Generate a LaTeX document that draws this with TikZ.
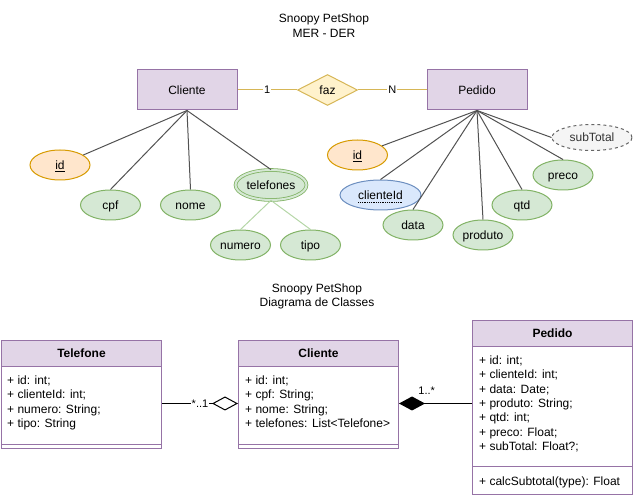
\documentclass[tikz,border=0pt]{standalone}
\usepackage{fontspec}
\setmainfont{Liberation Sans}
\usetikzlibrary{shapes.geometric,arrows.meta}
\definecolor{purF}{HTML}{E1D5E7}
\definecolor{purS}{HTML}{9673A6}
\definecolor{yelF}{HTML}{FFF2CC}
\definecolor{yelS}{HTML}{D6B656}
\definecolor{oraF}{HTML}{FFE6CC}
\definecolor{oraS}{HTML}{D79B00}
\definecolor{greF}{HTML}{D5E8D4}
\definecolor{greS}{HTML}{82B366}
\definecolor{greL}{HTML}{B5D6A7}
\definecolor{bluF}{HTML}{DAE8FC}
\definecolor{bluS}{HTML}{6C8EBF}
\definecolor{gryF}{HTML}{F5F5F5}
\definecolor{gryS}{HTML}{666666}
\definecolor{gryT}{HTML}{333333}
\begin{document}
\begin{tikzpicture}[x=1pt,y=-1pt,
  font=\fontsize{12pt}{14.4pt}\selectfont,
  txt/.style={text height=8.6pt, text depth=0pt},
  entity/.style={rectangle, draw=purS, fill=purF, line width=1pt, minimum width=100pt, minimum height=40pt, inner sep=0pt, txt},
  attr/.style={ellipse, draw=greS, fill=greF, line width=1pt, minimum width=60pt, minimum height=30pt, inner sep=0pt, txt},
  keyattr/.style={attr, draw=oraS, fill=oraF},
  fkattr/.style={attr, draw=bluS, fill=bluF, minimum width=81pt},
  derattr/.style={attr, draw=gryS, fill=gryF, dashed, minimum width=80pt, minimum height=26pt, text=gryT},
  multattr/.style={attr, line width=0.8pt, double=greF, double distance=2pt, minimum width=71pt},
  rel/.style={diamond, draw=yelS, fill=yelF, line width=1pt, minimum width=60pt, minimum height=31pt, inner sep=0pt, txt},
  erline/.style={draw=black!68, line width=1pt},
  subline/.style={draw=greL, line width=1pt},
  relline/.style={draw=yelS, line width=1pt},
  card/.style={fill=white, inner sep=1pt, font=\fontsize{11pt}{13pt}\selectfont, text height=8pt, text depth=0pt},
  classbox/.style={rectangle, draw=purS, fill=white, line width=1pt, minimum width=160pt, inner sep=0pt, anchor=north west},
  classhead/.style={rectangle, draw=purS, fill=purF, line width=1pt, minimum width=160pt, minimum height=26pt, inner sep=0pt, anchor=north, font=\fontsize{12pt}{14.4pt}\selectfont\bfseries, txt},
  member/.style={anchor=base west, inner sep=0pt},
  sepline/.style={draw=purS, line width=1pt},
  assoc/.style={draw=black, line width=1pt}
]
\useasboundingbox (0,0) rectangle (633,497);

% ---------- titles ----------
\node[align=center, inner sep=0pt] (title1) at (324,25.5) {Snoopy PetShop\\MER - DER};
\node[align=center, inner sep=0pt] (title2) at (317,296.5) {Snoopy PetShop\\Diagrama de Classes};

% ---------- ER diagram ----------
\node[entity] (CliE) at (187,90) {Cliente};
\node[entity] (PedE) at (477,90) {Pedido};
\node[rel] (faz) at (327.5,90) {faz};
\draw[relline] (CliE) -- node[card] (c1) {1} (faz);
\draw[relline] (faz) -- node[card] (cN) {N} (PedE);

\node[keyattr] (id1) at (60,165) {\underline{id}};
\node[attr] (cpf) at (110.5,205) {cpf};
\node[attr] (nome) at (190.5,205) {nome};
\node[multattr] (tel) at (271,185) {telefones};
\node[attr] (numero) at (240.5,245) {numero};
\node[attr] (tipo) at (310.5,245) {tipo};

\draw[erline] (CliE.south) -- (id1);
\draw[erline] (CliE.south) -- (cpf.north);
\draw[erline] (CliE.south) -- (nome.north);
\draw[erline] (CliE.south) -- (tel.north);
\draw[subline] (tel.south) -- (numero.north);
\draw[subline] (tel.south) -- (tipo.north);

\node[keyattr] (id2) at (357.5,155) {\underline{id}};
\node[fkattr] (cliId) at (380.5,195) {clienteId};
\node[attr] (data) at (413,225) {data};
\node[attr] (produto) at (483,235) {produto};
\node[attr] (qtd) at (522,205) {qtd};
\node[attr] (preco) at (563,175) {preco};
\node[derattr] (subT) at (592,137.5) {subTotal};
\draw[densely dotted, line width=0.8pt] ([xshift=-22.4pt,yshift=-7pt]cliId.center) -- ([xshift=22.4pt,yshift=-7pt]cliId.center);

\draw[erline] (PedE.south) -- (id2);
\draw[erline] (PedE.south) -- (cliId.north);
\draw[erline] (PedE.south) -- (data.north);
\draw[erline] (PedE.south) -- (produto.north);
\draw[erline] (PedE.south) -- (qtd.north);
\draw[erline] (PedE.south) -- (preco.north);
\draw[erline] (PedE.south) -- (subT.west);

% ---------- class diagram ----------
% Telefone
\node[classbox, minimum height=108pt] (Tel) at (1,340) {};
\node[classhead] (TelH) at (Tel.north) {Telefone};
\draw[sepline] ([yshift=4pt]Tel.south west) -- ([yshift=4pt]Tel.south east);
\foreach \t [count=\i] in {{+ id: int;},{+ clienteId: int;},{+ numero: String;},{+ tipo: String}}
  \node[member] (telm\i) at (7,{384.3+14.4*(\i-1)}) {\t};

% Cliente
\node[classbox, minimum height=108pt] (ClC) at (238,340) {};
\node[classhead] (ClH) at (ClC.north) {Cliente};
\draw[sepline] ([yshift=4pt]ClC.south west) -- ([yshift=4pt]ClC.south east);
\foreach \t [count=\i] in {{+ id: int;},{+ cpf: String;},{+ nome: String;},{+ telefones: List<Telefone>}}
  \node[member] (clim\i) at (245,{384.3+14.4*(\i-1)}) {\t};

% Pedido
\node[classbox, minimum height=174pt] (PedC) at (472,320) {};
\node[classhead] (PedH) at (PedC.north) {Pedido};
\draw[sepline] ([yshift=28pt]PedC.south west) -- ([yshift=28pt]PedC.south east);
\foreach \t [count=\i] in {{+ id: int;},{+ clienteId: int;},{+ data: Date;},{+ produto: String;},{+ qtd: int;},{+ preco: Float;},{+ subTotal: Float?;}}
  \node[member] (pedm\i) at (479,{364.3+14.4*(\i-1)}) {\t};
\node[member] (pedop) at (479,486) {+ calcSubtotal(type): Float};

% associations
\draw[assoc, -{Diamond[open, length=26pt, width=14pt]}] ([yshift=-9pt]Tel.east) -- node[card, pos=0.5] (lab1) {*..1} ([yshift=-9pt]ClC.west);
\draw[assoc, {Diamond[length=26pt, width=14pt]}-] ([yshift=-9pt]ClC.east) -- node[pos=0.38, yshift=13pt, inner sep=0pt, font=\fontsize{11pt}{13pt}\selectfont, text height=8pt, text depth=0pt] (lab2) {1..*} ([yshift=4pt]PedC.west);
\end{tikzpicture}
\end{document}
